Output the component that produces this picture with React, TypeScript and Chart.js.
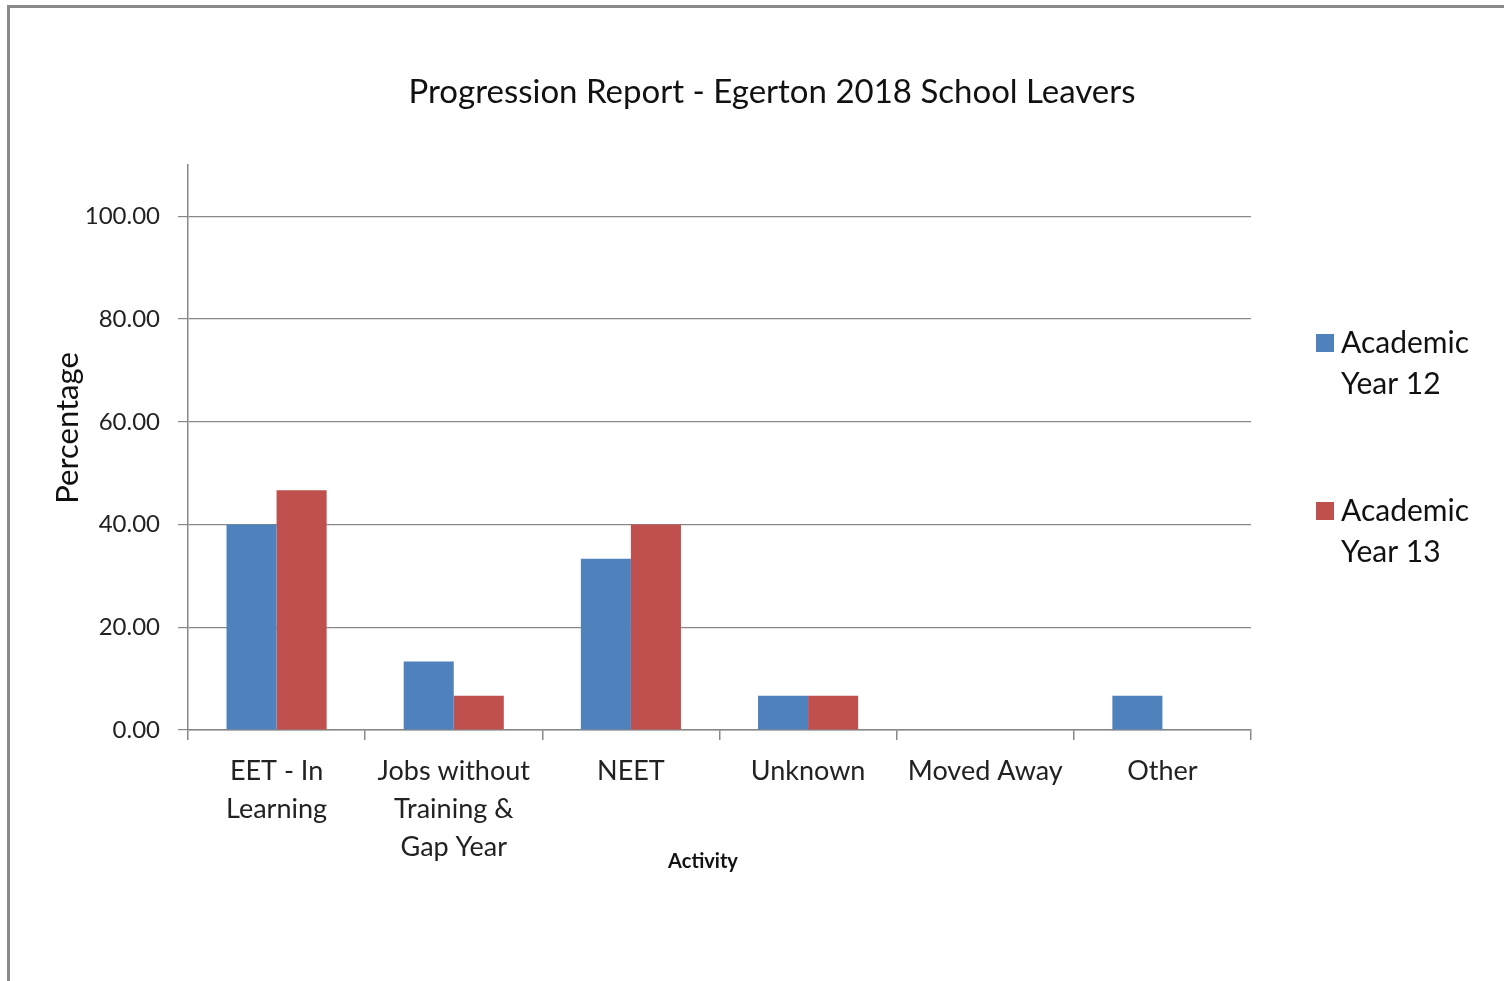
import React, { useEffect, useRef } from "react";
import { Chart, registerables } from "chart.js";

Chart.register(...registerables);

const categories: (string | string[])[] = [
  ["EET - In", "Learning"],
  ["Jobs without", "Training &", "Gap Year"],
  "NEET",
  "Unknown",
  "Moved Away",
  "Other",
];
const year12Values = [40.0, 13.33, 33.33, 6.67, 0, 6.67];
const year13Values = [46.67, 6.67, 40.0, 6.67, 0, 0];
const seriesLabels = [["Academic", "Year 12"], ["Academic", "Year 13"]];
const seriesColors = ["#4F81BD", "#C0504D"];
const yTicks = [0, 20, 40, 60, 80, 100];
const chartTitle = "Progression Report - Egerton 2018 School Leavers";
const xTitle = "Activity";
const yTitle = "Percentage";

const FONT = "Lato, 'Open Sans', sans-serif";
const GRID = "#888888";

const decorPlugin = {
  id: "decor",
  afterDraw(chart: any) {
    const ctx = chart.ctx;
    ctx.save();
    // title
    ctx.font = `33px ${FONT}`;
    ctx.fillStyle = "#111";
    ctx.textAlign = "center";
    ctx.textBaseline = "middle";
    ctx.fillText(chartTitle, 772, 92);
    // x axis title
    ctx.font = `bold 20px ${FONT}`;
    ctx.fillText(xTitle, 703, 862);
    // y axis title
    ctx.save();
    ctx.translate(68, 428);
    ctx.rotate(-Math.PI / 2);
    ctx.font = `31px ${FONT}`;
    ctx.fillText(yTitle, 0, 0);
    ctx.restore();
    // legend
    const x0 = chart.chartArea.right + 65;
    const tops = [334, 502];
    ctx.font = `30px ${FONT}`;
    ctx.textAlign = "left";
    chart.data.datasets.forEach((ds: any, i: number) => {
      const top = tops[i];
      ctx.fillStyle = ds.backgroundColor;
      ctx.fillRect(x0, top, 18, 18);
      ctx.fillStyle = "#111";
      seriesLabels[i].forEach((ln, j) => {
        ctx.fillText(ln, x0 + 25, top + 9 + j * 41);
      });
    });
    ctx.restore();
  },
};

export default function App() {
  const ref = useRef<HTMLCanvasElement | null>(null);
  useEffect(() => {
    if (!ref.current) return;
    const chart = new Chart(ref.current, {
      type: "bar",
      data: {
        labels: categories,
        datasets: [
          {
            label: seriesLabels[0].join(" "),
            data: year12Values,
            backgroundColor: seriesColors[0],
            barPercentage: 1,
            categoryPercentage: 0.565,
          },
          {
            label: seriesLabels[1].join(" "),
            data: year13Values,
            backgroundColor: seriesColors[1],
            barPercentage: 1,
            categoryPercentage: 0.565,
          },
        ],
      },
      options: {
        animation: false,
        responsive: false,
        devicePixelRatio: 1,
        layout: { padding: { left: 40, right: 253, top: 165, bottom: 107 } },
        plugins: {
          legend: { display: false },
          tooltip: { enabled: false },
          title: { display: false },
        },
        scales: {
          x: {
            afterFit: (s: any) => {
              s.height = 144;
            },
            grid: {
              offset: true,
              drawOnChartArea: false,
              drawTicks: true,
              tickLength: 10,
              color: GRID,
              lineWidth: 1.5,
            },
            border: { color: GRID, width: 1.5 },
            ticks: {
              autoSkip: false,
              maxRotation: 0,
              padding: 12,
              color: "#222",
              font: { family: FONT, size: 27, lineHeight: 1.41 },
            },
          },
          y: {
            min: 0,
            max: 110,
            afterFit: (s: any) => {
              s.width = 148;
            },
            afterBuildTicks: (s: any) => {
              s.ticks = yTicks.map((v) => ({ value: v }));
            },
            grid: {
              color: GRID,
              lineWidth: 1.2,
              tickLength: 10,
            },
            border: { color: GRID, width: 1.5 },
            ticks: {
              padding: 18,
              color: "#222",
              font: { family: FONT, size: 24 },
              callback: (v: any) => Number(v).toFixed(2),
            },
          },
        },
      },
      plugins: [decorPlugin],
    } as any);
    return () => chart.destroy();
  }, []);

  return (
    <div style={{ position: "absolute", left: 0, top: 0, width: 1504, height: 981, background: "#fff" }}>
      <div
        style={{
          position: "absolute",
          left: 7,
          top: 5,
          right: 0,
          bottom: 0,
          borderLeft: "3px solid #8a8a8a",
          borderTop: "3px solid #8a8a8a",
        }}
      />
      <canvas
        ref={ref}
        width={1504}
        height={981}
        style={{ position: "absolute", left: 0, top: 0, width: 1504, height: 981, display: "block" }}
      />
    </div>
  );
}
